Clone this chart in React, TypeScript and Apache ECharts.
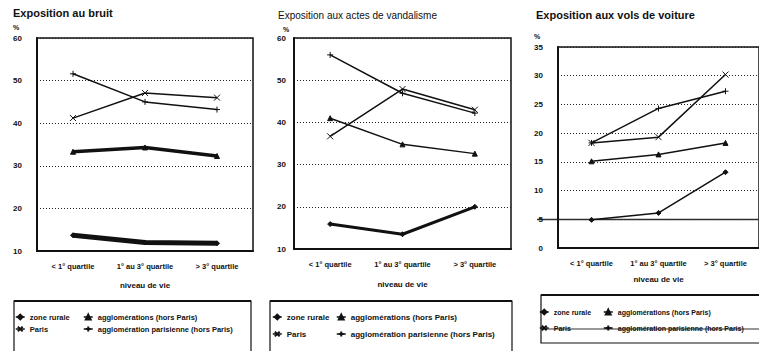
import React, { useEffect, useRef } from 'react';
import * as echarts from 'echarts';

const categories = ['< 1° quartile', '1° au 3° quartile', '> 3° quartile'];
const seriesNames = ['zone rurale', 'agglomérations (hors Paris)', 'Paris', 'agglomération parisienne (hors Paris)'];
const titles = ['Exposition au bruit', 'Exposition aux actes de vandalisme', 'Exposition aux vols de voiture'];
const xAxisName = 'niveau de vie';
const yUnit = '%';

// Exposition au bruit (%)
const bruitRurale = [13.7, 12.0, 11.8];
const bruitAgglo = [33.3, 34.3, 32.3];
const bruitParis = [41.2, 47.1, 46.0];
const bruitParisienne = [51.6, 45.0, 43.2];

// Exposition aux actes de vandalisme (%)
const vandRurale = [15.9, 13.5, 20.0];
const vandAgglo = [41.0, 34.8, 32.6];
const vandParis = [36.7, 47.9, 43.0];
const vandParisienne = [56.0, 46.9, 42.2];

// Exposition aux vols de voiture (%)
const volRurale = [4.9, 6.1, 13.2];
const volAgglo = [15.1, 16.3, 18.3];
const volParis = [18.3, 19.3, 30.2];
const volParisienne = [18.3, 24.3, 27.3];

const yRanges = [
  { min: 10, max: 60, interval: 10 },
  { min: 10, max: 60, interval: 10 },
  { min: 0, max: 35, interval: 5 },
];

const FONT = '"Liberation Sans", Arial, sans-serif';
const INK = '#111';

const X_PATH = 'path://M0,0L10,10M10,0L0,10';
const PLUS_PATH = 'path://M5,0L5,10M0,5L10,5';

const symbolFor: Record<string, [string, number]> = {
  'zone rurale': ['diamond', 5],
  'agglomérations (hors Paris)': ['triangle', 5],
  'Paris': [X_PATH, 6],
  'agglomération parisienne (hors Paris)': [PLUS_PATH, 6],
};

function mkSeries(name: string, data: number[], idx: number, width: number) {
  const [symbol, size] = symbolFor[name];
  return {
    type: 'line',
    name,
    data,
    xAxisIndex: idx,
    yAxisIndex: idx,
    symbol,
    symbolSize: size,
    lineStyle: { color: INK, width },
    itemStyle: { color: INK, borderColor: INK, borderWidth: 1 },
  };
}

export default function App() {
  const ref = useRef<HTMLDivElement>(null);

  useEffect(() => {
    if (!ref.current) return;
    const chart = echarts.init(ref.current, undefined, { renderer: 'svg' });

    const grids = [
      { left: 37, right: 506, top: 38, bottom: 100 },
      { left: 294, right: 248, top: 38, bottom: 102 },
      { left: 558, right: -4, top: 47, bottom: 103 },
    ];
    const yMargins = [15, 8, 15];
    const nameGaps = [30, 31, 27];

    const xAxes = grids.map((_, i) => ({
      type: 'category',
      gridIndex: i,
      data: categories,
      boundaryGap: true,
      name: xAxisName,
      nameLocation: 'middle',
      nameGap: nameGaps[i],
      nameTextStyle: { fontFamily: FONT, fontSize: 8, fontWeight: 'bold', color: INK },
      axisLine: { lineStyle: { color: INK, width: 2 } },
      axisTick: { alignWithLabel: true, length: 5, lineStyle: { color: INK, width: 1.5 } },
      axisLabel: {
        interval: 0,
        hideOverlap: false,
        fontFamily: FONT,
        fontSize: 7.5,
        fontWeight: 'bold',
        color: INK,
        margin: 11,
      },
      splitLine: { show: false },
    }));

    const yAxes = grids.map((_, i) => ({
      type: 'value',
      gridIndex: i,
      min: yRanges[i].min,
      max: yRanges[i].max,
      interval: yRanges[i].interval,
      axisLine: { show: true, lineStyle: { color: INK, width: 2 } },
      axisTick: { show: false },
      axisLabel: { fontFamily: FONT, fontSize: 8, fontWeight: 'bold', color: INK, margin: yMargins[i] },
      splitLine: { show: true, lineStyle: { color: '#222', width: 1, type: [1, 2] } },
    }));

    const series = [
      mkSeries(seriesNames[0], bruitRurale, 0, 5),
      mkSeries(seriesNames[1], bruitAgglo, 0, 3.5),
      mkSeries(seriesNames[2], bruitParis, 0, 1.5),
      mkSeries(seriesNames[3], bruitParisienne, 0, 1.5),
      mkSeries(seriesNames[0], vandRurale, 1, 3),
      mkSeries(seriesNames[1], vandAgglo, 1, 1.5),
      mkSeries(seriesNames[2], vandParis, 1, 1.5),
      mkSeries(seriesNames[3], vandParisienne, 1, 1.5),
      mkSeries(seriesNames[0], volRurale, 2, 1.5),
      mkSeries(seriesNames[1], volAgglo, 2, 1.5),
      mkSeries(seriesNames[2], volParis, 2, 1.5),
      mkSeries(seriesNames[3], volParisienne, 2, 1.5),
    ];

    const legendCfg = [
      { cols: [15, 83], row1: 317, gap: 12, fontSize: 7.5 },
      { cols: [272, 336], row1: 317, gap: 17, fontSize: 8 },
      { cols: [539, 603], row1: 312, gap: 16, fontSize: 7 },
    ];
    const legends: any[] = [];
    legendCfg.forEach((c) => {
      [[seriesNames[0], seriesNames[2]], [seriesNames[1], seriesNames[3]]].forEach((names, ci) => {
        legends.push({
          data: names,
          left: c.cols[ci],
          top: c.row1 - 5,
          orient: 'vertical',
          itemWidth: 9,
          itemHeight: 6,
          itemGap: c.gap - 10,
          padding: 0,
          selectedMode: false,
          lineStyle: { width: 1.5 },
          textStyle: { fontFamily: FONT, fontSize: c.fontSize, fontWeight: 'bold', color: INK, lineHeight: 10 },
        });
      });
    });

    const titleCfg = [
      { x: 13, y: 13, size: 11, weight: 'bold' },
      { x: 278, y: 15, size: 10, weight: 'normal' },
      { x: 536, y: 15, size: 11, weight: 'bold' },
    ];
    const pctPos = [
      [13, 27],
      [283, 29],
      [534, 36],
    ];

    const graphic: any[] = [];
    titles.forEach((t, i) => {
      graphic.push({
        type: 'text',
        style: {
          x: titleCfg[i].x,
          y: titleCfg[i].y,
          text: t,
          fontFamily: FONT,
          fontSize: titleCfg[i].size,
          fontWeight: titleCfg[i].weight,
          fill: INK,
          verticalAlign: 'middle',
        },
      });
      graphic.push({
        type: 'text',
        style: {
          x: pctPos[i][0],
          y: pctPos[i][1],
          text: yUnit,
          fontFamily: FONT,
          fontSize: 7,
          fontWeight: 'bold',
          fill: INK,
          verticalAlign: 'middle',
        },
      });
    });
    // legend boxes
    const boxes = [
      [14, 301, 237, 70],
      [270, 301, 242, 70],
      [541, 295, 230, 48],
    ];
    boxes.forEach(([x, y, w, h]) => {
      graphic.push({
        type: 'rect',
        shape: { x, y, width: w, height: h },
        style: { fill: 'none', stroke: INK, lineWidth: 1.2 },
      });
      graphic.push({
        type: 'line',
        shape: { x1: x, y1: y, x2: x + w, y2: y },
        style: { stroke: INK, lineWidth: 2 },
      });
    });
    // scan streaks visible in the third panel
    graphic.push({
      type: 'line',
      shape: { x1: 537, y1: 219.5, x2: 759, y2: 219.5 },
      style: { stroke: '#333', lineWidth: 1.5 },
    });
    graphic.push({
      type: 'line',
      shape: { x1: 541, y1: 329, x2: 759, y2: 329 },
      style: { stroke: '#333', lineWidth: 1.2 },
    });

    chart.setOption({
      animation: false,
      backgroundColor: '#fff',
      grid: grids.map((g) => ({ ...g, show: true, borderColor: INK, borderWidth: 1.5, backgroundColor: 'transparent' })),
      xAxis: xAxes,
      yAxis: yAxes,
      legend: legends,
      series,
      graphic,
    });

    return () => chart.dispose();
  }, []);

  return (
    <div
      ref={ref}
      style={{ position: 'fixed', left: 0, top: 0, width: 759, height: 351, background: '#fff' }}
    />
  );
}
